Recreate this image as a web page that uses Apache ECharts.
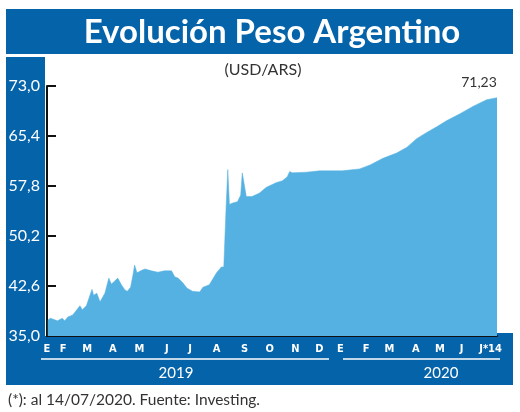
<!DOCTYPE html>
<html>
<head>
<meta charset="utf-8">
<script src="https://cdn.jsdelivr.net/npm/echarts@6/dist/echarts.min.js"></script>
<style>
html,body{margin:0;padding:0;background:#fff;}
#c{width:520px;height:412px;}
</style>
</head>
<body>
<div id="c"></div>
<script>
// ---- data ----
const dates = [
 '2019-01-02','2019-01-05','2019-01-08','2019-01-14','2019-01-20','2019-01-23','2019-01-27',
 '2019-02-02','2019-02-11','2019-02-14','2019-02-19','2019-02-26','2019-02-28',
 '2019-03-04','2019-03-08','2019-03-14','2019-03-19','2019-03-22','2019-03-25','2019-03-30',
 '2019-04-04','2019-04-08','2019-04-11','2019-04-15','2019-04-18','2019-04-20','2019-04-23','2019-04-29',
 '2019-05-03','2019-05-11','2019-05-19','2019-05-27',
 '2019-06-05','2019-06-09','2019-06-13','2019-06-19','2019-06-24',
 '2019-07-01','2019-07-10','2019-07-14','2019-07-22','2019-07-31',
 '2019-08-06','2019-08-09','2019-08-12','2019-08-14','2019-08-16','2019-08-20','2019-08-26','2019-08-30',
 '2019-09-01','2019-09-03','2019-09-06','2019-09-13','2019-09-22',
 '2019-10-01','2019-10-13','2019-10-21','2019-10-27','2019-10-30',
 '2019-11-02','2019-11-20','2019-12-06',
 '2020-01-03','2020-01-25','2020-02-07','2020-02-23','2020-03-11','2020-03-24',
 '2020-04-05','2020-04-17','2020-04-30','2020-05-12','2020-05-29','2020-06-14','2020-07-01','2020-07-14'
];
const values = [
 37.4,37.7,37.6,37.3,37.7,37.3,37.9,
 38.2,39.6,39.0,39.6,42.1,41.2,
 41.5,40.2,41.5,43.8,42.9,43.2,43.8,
 42.7,42.0,41.8,42.4,44.3,45.8,44.6,45.0,
 45.2,44.9,44.7,44.9,
 44.9,44.0,43.8,43.1,42.3,
 41.8,41.7,42.4,42.8,44.6,
 45.5,45.5,55.0,60.3,55.0,55.2,55.4,56.4,
 59.8,59.6,56.2,56.2,56.7,
 57.6,58.3,58.6,59.2,60.0,
 59.8,59.9,60.1,
 60.1,60.4,61.0,62.0,62.8,63.7,
 65.0,65.9,66.8,67.7,68.8,69.9,70.9,71.23
];
const monthLabels = ['E','F','M','A','M','J','J','A','S','O','N','D','E','F','M','A','M','J','J*14'];
const monthLabelDates = [
 '2019-01-01','2019-01-21','2019-02-20','2019-03-24','2019-04-26','2019-05-30','2019-06-28',
 '2019-07-31','2019-09-04','2019-10-05','2019-11-06','2019-12-06',
 '2020-01-01','2020-02-02','2020-03-02','2020-04-04','2020-05-04','2020-05-31','2020-07-06'
];
const yTicks = [35.0, 42.6, 50.2, 57.8, 65.4, 73.0];
const years = ['2019', '2020'];
const lastLabel = '71,23';
const startDate = '2019-01-01';
const endDate = '2020-07-14';

// ---- helpers: dates -> day number since start ----
function dayNum(s){
  const p = s.split('-').map(Number);
  const q = startDate.split('-').map(Number);
  return Math.round((Date.UTC(p[0],p[1]-1,p[2]) - Date.UTC(q[0],q[1]-1,q[2])) / 86400000);
}
const seriesData = dates.map((d,i)=>[dayNum(d), values[i]]);
const monthDays = monthLabelDates.map(dayNum);
const labelMap = {};
monthDays.forEach((t,i)=>{ labelMap[t] = monthLabels[i]; });
const fmtComma = v => Number(v).toFixed(1).replace('.', ',');

const BLUE = '#0563a9';
const FILL = '#55b1e1';

const chart = echarts.init(document.getElementById('c'), null, {renderer:'canvas'});
const last = seriesData[seriesData.length-1];

chart.setOption({
  animation:false,
  backgroundColor:'#fff',
  grid:{left:47, right:23, top:86, bottom:76},
  graphic:[
    {type:'rect', z:-10, shape:{x:6,y:9,width:507,height:45}, style:{fill:BLUE}},
    {type:'rect', z:-10, shape:{x:6,y:57,width:39,height:328}, style:{fill:BLUE}},
    {type:'rect', z:-10, shape:{x:6,y:336,width:507,height:49}, style:{fill:BLUE}},
    {type:'rect', z:-10, shape:{x:497,y:333,width:16,height:52}, style:{fill:BLUE}},
    {type:'text', z:10, x:272, y:32, style:{text:'Evolución Peso Argentino', fill:'#fff',
      font:'bold 33px Lato, "Open Sans", sans-serif', textAlign:'center', textVerticalAlign:'middle'}},
    {type:'text', z:10, x:263, y:70, style:{text:'(USD/ARS)', fill:'#333',
      font:'16px Lato, "Open Sans", sans-serif', textAlign:'center', textVerticalAlign:'middle'}},
    {type:'line', z:10, shape:{x1:41,y1:359,x2:329,y2:359}, style:{stroke:'#fff', lineWidth:1.5}},
    {type:'line', z:10, shape:{x1:343,y1:359,x2:500,y2:359}, style:{stroke:'#fff', lineWidth:1.5}},
    {type:'text', z:10, x:176, y:373, style:{text:years[0], fill:'#fff',
      font:'15px Lato, "Open Sans", sans-serif', textAlign:'center', textVerticalAlign:'middle'}},
    {type:'text', z:10, x:441, y:373, style:{text:years[1], fill:'#fff',
      font:'15px Lato, "Open Sans", sans-serif', textAlign:'center', textVerticalAlign:'middle'}},
    {type:'text', z:10, x:8, y:400, style:{text:'(*): al 14/07/2020. Fuente: Investing.', fill:'#333',
      font:'15.5px Lato, "Open Sans", sans-serif', textAlign:'left', textVerticalAlign:'middle'}}
  ],
  xAxis:{
    type:'value',
    min:0, max:dayNum(endDate),
    axisLine:{show:true, lineStyle:{color:'#111', width:2}},
    axisTick:{show:false},
    splitLine:{show:false},
    axisLabel:{
      customValues:monthDays,
      color:'#fff', fontSize:11, fontWeight:'bold', margin:8,
      fontFamily:'"DejaVu Sans Condensed", "Liberation Sans Narrow", sans-serif',
      formatter:(v)=> labelMap[v] !== undefined ? labelMap[v] : ''
    }
  },
  yAxis:{
    type:'value', min:35, max:73,
    axisLine:{show:true, lineStyle:{color:'#111', width:2}},
    axisTick:{show:true, inside:true, length:9, customValues:yTicks, lineStyle:{color:'#111', width:2}},
    splitLine:{show:false},
    axisLabel:{customValues:yTicks, color:'#fff', fontSize:16, margin:7,
      fontFamily:'Lato, "Open Sans", sans-serif', formatter:fmtComma}
  },
  series:[{
    type:'line',
    data:seriesData,
    showSymbol:false,
    symbol:'none',
    lineStyle:{width:0.5, color:FILL},
    areaStyle:{color:FILL, opacity:1, origin:'start'},
    z:2,
    markPoint:{
      symbol:'circle', symbolSize:0.1,
      data:[{coord:last}],
      label:{show:true, position:'top', formatter:lastLabel, color:'#333', fontSize:14,
        fontFamily:'Lato, "Open Sans", sans-serif', offset:[-18,-3]}
    }
  }]
});
</script>
</body>
</html>
